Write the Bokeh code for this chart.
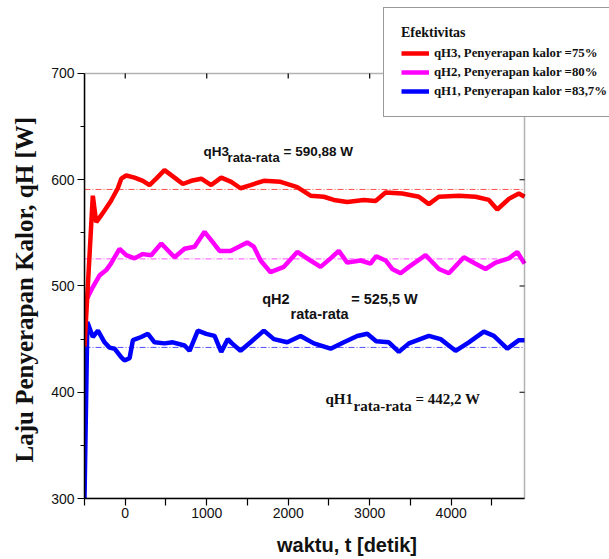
from bokeh.plotting import figure
from bokeh.models import Range1d, FixedTicker, Label, Legend, LegendItem, BoxAnnotation, Title
from bokeh.embed import file_html
from bokeh.resources import INLINE

# ---- data ----
t_qh3 = [-500, -398, -356, -300, -254, -176, -91, -49, 12, 114, 216, 298, 380, 482, 605, 707,
         810, 933, 1055, 1178, 1301, 1415, 1538, 1701, 1906, 2111, 2274, 2437, 2560, 2724, 2928,
         3072, 3195, 3400, 3604, 3726, 3849, 4094, 4299, 4463, 4565, 4708, 4831, 4900]
qh3 = [443, 585, 560, 566, 571, 580, 592, 601, 604, 602, 599, 595, 601, 609, 602, 596,
       599, 601, 595, 602, 598, 592, 595, 599, 598, 593, 585, 584, 581, 579, 581,
       580, 588, 587, 584, 577, 584, 585, 584, 581, 572, 582, 587, 584]

t_qh2 = [-500, -470, -398, -315, -233, -176, -70, 12, 114, 216, 319, 442, 605, 728, 851, 973,
         1076, 1157, 1292, 1497, 1578, 1661, 1783, 1947, 2111, 2274, 2397, 2520, 2621, 2724,
         2888, 3010, 3080, 3195, 3276, 3379, 3481, 3686, 3849, 3972, 4156, 4299, 4422, 4545,
         4708, 4811, 4900]
qh2 = [479, 488, 499, 510, 515, 521, 535, 529, 526, 530, 529, 540, 527, 535, 537, 551,
       541, 533, 533, 541, 537, 524, 513, 518, 532, 524, 518, 526, 533, 522,
       524, 521, 528, 524, 516, 512, 518, 529, 516, 512, 527, 521, 516, 522,
       526, 532, 521]

t_qh1 = [-500, -465, -398, -335, -254, -193, -131, -50, -9, 53, 94, 196, 278, 360, 482, 584, 728,
         789, 891, 994, 1096, 1178, 1259, 1310, 1415, 1538, 1701, 1824, 1988, 2151, 2315, 2520,
         2683, 2847, 2970, 3080, 3235, 3358, 3481, 3726, 3870, 4054, 4217, 4401, 4524, 4688,
         4831, 4900]
qh1 = [300, 466, 452, 458, 447, 442, 441, 433, 430, 432, 449, 452, 455, 447, 446, 447, 444,
       439, 458, 455, 453, 438, 450, 446, 439, 447, 458, 450, 447, 453, 446, 441,
       447, 453, 455, 448, 447, 438, 446, 453, 450, 439, 447, 457, 453, 441,
       449, 449]

avg_qh3 = 590.88
avg_qh2 = 525.5
avg_qh1 = 442.2

x_major = [0, 1000, 2000, 3000, 4000]
x_minor = [-500, 500, 1500, 2500, 3500, 4500]
y_major = [300, 400, 500, 600, 700]
y_minor = [350, 450, 550, 650]
x_lo, x_hi = -500, 4900
y_lo, y_hi = 300, 700

y_label = "Laju Penyerapan Kalor, qH [W]"
x_label = "waktu, t [detik]"
legend_labels = ["qH3, Penyerapan kalor =75%",
                 "qH2, Penyerapan kalor =80%",
                 "qH1, Penyerapan kalor =83,7%"]
colors = ["#ff0000", "#ff00ff", "#0000ff"]

# ---- figure (frame extended to the right/top so the legend box can sit there) ----
p = figure(width=609, height=562, output_backend="svg", toolbar_location=None,
           x_range=Range1d(x_lo, 5943), y_range=Range1d(y_lo, 762.1),
           min_border_left=84, min_border_right=0, min_border_top=7, min_border_bottom=64,
           x_axis_label=x_label)
p.background_fill_color = "white"
p.border_fill_color = "white"
p.xgrid.visible = False
p.ygrid.visible = False
p.outline_line_color = None

xa = p.xaxis[0]
xa.bounds = (x_lo, x_hi)
xa.ticker = FixedTicker(ticks=x_major, minor_ticks=x_minor)
xa.major_tick_out = 7
xa.major_tick_in = 0
xa.minor_tick_out = 7
xa.minor_tick_in = 0
xa.major_label_standoff = 2
xa.major_label_text_font = "Liberation Sans"
xa.major_label_text_font_size = "14px"
xa.major_label_text_color = "#111111"
xa.axis_label_text_font = "Liberation Sans"
xa.axis_label_text_font_style = "bold"
xa.axis_label_text_font_size = "20px"
xa.axis_label_standoff = 13
xa.axis_label_text_color = "#111111"
xa.axis_line_width = 1.5
xa.major_tick_line_width = 1.2
xa.minor_tick_line_width = 1.2

ya = p.yaxis[0]
ya.bounds = (y_lo, y_hi)
ya.ticker = FixedTicker(ticks=y_major, minor_ticks=y_minor)
ya.major_tick_out = 7
ya.major_tick_in = 0
ya.minor_tick_out = 4
ya.minor_tick_in = 0
ya.major_label_standoff = 3
ya.major_label_text_font = "Liberation Sans"
ya.major_label_text_font_size = "14px"
ya.major_label_text_color = "#111111"
ya.axis_line_width = 1.5
ya.major_tick_line_width = 1.2
ya.minor_tick_line_width = 1.2

# y-axis title, placed along the plot box (not the extended frame)
p.add_layout(Title(text=y_label, text_font="Liberation Serif", text_font_size="25px",
                   text_font_style="bold", text_color="#111111", align="left",
                   offset=36, vertical_align="top", standoff=18), "left")

# plot box and inward ticks on the right / top edges
p.add_layout(BoxAnnotation(left=x_lo, right=x_hi, bottom=y_lo, top=y_hi,
                           fill_color=None, fill_alpha=0, line_color="black", line_width=1.5))
p.segment(x0=[x_hi] * len(y_major), y0=y_major, x1=[x_hi - 61] * len(y_major), y1=y_major,
          line_color="black", line_width=1.2)
p.segment(x0=x_major, y0=[y_hi] * len(x_major), x1=x_major, y1=[y_hi - 4.7] * len(x_major),
          line_color="black", line_width=1.2)

# ---- mean lines ----
for avg, c in zip([avg_qh3, avg_qh2, avg_qh1], colors):
    p.line([x_lo, x_hi], [avg, avg], line_color=c, line_alpha=0.7, line_width=1,
           line_dash="6 2 1 2")

# ---- curves ----
r1 = p.line(t_qh2, qh2, line_color=colors[1], line_width=4.5)
r2 = p.line(t_qh1, qh1, line_color=colors[2], line_width=4.5)
r0 = p.line(t_qh3, qh3, line_color=colors[0], line_width=4.5)

# ---- annotations ----
def add_lbl(x, y, text, font, size):
    p.add_layout(Label(x=x, y=y, text=text, text_font=font, text_font_size=size,
                       text_font_style="bold", text_color="#111111",
                       text_baseline="alphabetic", text_align="left"))

add_lbl(961, 627, "qH3", "Liberation Sans", "13.5px")
add_lbl(1256, 621, "rata-rata", "Liberation Sans", "13px")
add_lbl(1943, 627, "= 590,88 W", "Liberation Sans", "13.5px")

add_lbl(1681, 488, "qH2", "Liberation Sans", "14.5px")
add_lbl(2029, 474, "rata-rata", "Liberation Sans", "14.5px")
add_lbl(2774, 488, "=  525,5 W", "Liberation Sans", "14.5px")

add_lbl(2458, 394, "qH1", "Liberation Serif", "15px")
add_lbl(2802, 387.5, "rata-rata", "Liberation Serif", "15px")
add_lbl(3563, 394, "= 442,2 W", "Liberation Serif", "15px")

# ---- legend ----
legend = Legend(items=[LegendItem(label=legend_labels[0], renderers=[r0]),
                       LegendItem(label=legend_labels[1], renderers=[r1]),
                       LegendItem(label=legend_labels[2], renderers=[r2])],
                title="Efektivitas", location=(299, 381))
legend.title_text_font = "Liberation Serif"
legend.title_text_font_style = "bold"
legend.title_text_font_size = "14px"
legend.title_text_color = "#111111"
legend.title_standoff = 4
legend.label_text_font = "Liberation Serif"
legend.label_text_font_style = "bold"
legend.label_text_font_size = "12.8px"
legend.label_text_color = "#111111"
legend.glyph_width = 28
legend.glyph_height = 16
legend.label_height = 16
legend.label_standoff = 5
legend.spacing = 3
legend.padding = 17
legend.margin = 0
legend.border_line_color = "#333333"
legend.border_line_width = 1.2
legend.background_fill_color = "white"
legend.background_fill_alpha = 1.0
p.add_layout(legend, "center")

open("out.html", "w").write(file_html(p, INLINE))
